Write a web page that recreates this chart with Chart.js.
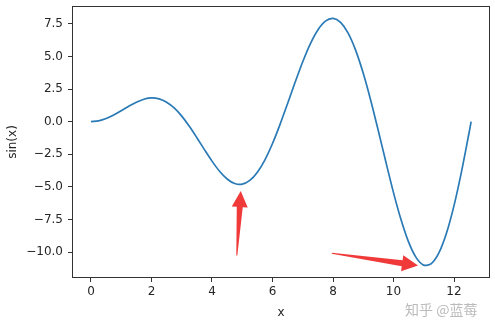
<!DOCTYPE html>
<html><head><meta charset="utf-8">
<script src="https://cdn.jsdelivr.net/npm/chart.js@4"></script>
<style>html,body{margin:0;padding:0;background:#fff}canvas{display:block}</style>
</head><body>
<canvas id="c" width="495" height="330"></canvas>
<script>
// x values and curve values
const xs = [0,0.25,0.5,0.75,1,1.25,1.5,1.75,2,2.25,2.5,2.75,3,3.25,3.5,3.75,4,4.25,4.5,4.75,5,5.25,5.5,5.75,6,6.25,6.5,6.75,7,7.25,7.5,7.75,8,8.25,8.5,8.75,9,9.25,9.5,9.75,10,10.25,10.5,10.75,11,11.25,11.5,11.75,12,12.25,12.5,12.566];
const ys = [0,0.062,0.240,0.511,0.841,1.186,1.496,1.722,1.819,1.751,1.496,1.050,0.423,-0.352,-1.228,-2.144,-3.027,-3.804,-4.399,-4.747,-4.795,-4.509,-3.880,-2.923,-1.676,-0.207,1.398,3.038,4.599,5.971,7.035,7.707,7.915,7.610,6.787,5.468,3.709,1.609,-0.714,-3.118,-5.440,-7.528,-9.237,-10.425,-11.000,-10.887,-10.068,-8.560,-6.439,-3.808,-0.829,0];
const xTicks = [0,2,4,6,8,10,12];
const yTicks = [-10,-7.5,-5,-2.5,0,2.5,5,7.5];
// annotation arrows: [tailX, tailY, tipX, tipY] in data units
const arrow1 = [4.82,-10.26,4.95,-5.32];
const arrow2 = [7.96,-10.10,10.81,-11.03];
const xLabel = 'x';
const yLabel = 'sin(x)';
const watermark = '知乎 @蓝莓';

const FONT = {family:'"DejaVu Sans", sans-serif', size:12};

const deco = {
  id:'deco',
  afterDatasetsDraw(chart){
    const ctx = chart.ctx, a = chart.chartArea;
    const sx = chart.scales.x, sy = chart.scales.y;
    ctx.save();
    // frame
    ctx.strokeStyle = '#333'; ctx.lineWidth = 1;
    ctx.strokeRect(Math.round(a.left)+0.5, Math.round(a.top)+0.5, Math.round(a.right-a.left)-1, Math.round(a.bottom-a.top)-1);
    // arrows
    function arrow(arr){
      const x0 = sx.getPixelForValue(arr[0]), y0 = sy.getPixelForValue(arr[1]);
      const x1 = sx.getPixelForValue(arr[2]), y1 = sy.getPixelForValue(arr[3]);
      const dx = x1-x0, dy = y1-y0, L = Math.hypot(dx,dy);
      const ux = dx/L, uy = dy/L, nx = -uy, ny = ux;
      const headLen = 16, headW = 8, shaftW = 3;
      const bx = x1 - ux*headLen, by = y1 - uy*headLen;
      ctx.beginPath();
      ctx.moveTo(x0 + nx*0.5, y0 + ny*0.5);
      ctx.lineTo(bx + nx*shaftW, by + ny*shaftW);
      ctx.lineTo(bx + nx*headW, by + ny*headW);
      ctx.lineTo(x1, y1);
      ctx.lineTo(bx - nx*headW, by - ny*headW);
      ctx.lineTo(bx - nx*shaftW, by - ny*shaftW);
      ctx.lineTo(x0 - nx*0.5, y0 - ny*0.5);
      ctx.closePath();
      ctx.fillStyle = '#f03a3a';
      ctx.fill();
    }
    arrow(arrow1); arrow(arrow2);
    // watermark
    ctx.font = '14px "Noto Sans CJK SC", sans-serif';
    ctx.textBaseline = 'middle';
    ctx.fillStyle = 'rgba(175,175,175,0.85)';
    ctx.fillText(watermark, 405, 310);
    ctx.restore();
  }
};

new Chart(document.getElementById('c'), {
  type:'scatter',
  data:{datasets:[{
    data: xs.map((x,i)=>({x:x, y:ys[i]})),
    showLine:true, borderColor:'#2a7ab6', borderWidth:1.7, pointRadius:0, tension:0.3, fill:false
  }]},
  options:{
    responsive:false, animation:false, devicePixelRatio:1,
    layout:{padding:{left:2, top:6, right:5, bottom:0}},
    plugins:{legend:{display:false}, tooltip:{enabled:false}},
    scales:{
      x:{type:'linear', min:-0.628, max:13.19,
        afterBuildTicks(ax){ ax.ticks = xTicks.map(v=>({value:v})); },
        afterFit(ax){ ax.height = 52; ax.paddingLeft = 0; ax.paddingRight = 0; },
        grid:{drawOnChartArea:false, drawTicks:true, tickLength:4, color:'#333'},
        border:{display:false},
        ticks:{font:FONT, color:'#262626', padding:3, maxRotation:0, callback:v=>String(v)},
        title:{display:true, text:xLabel, font:FONT, color:'#262626', padding:{top:0,bottom:10}}
      },
      y:{type:'linear', min:-11.99, max:8.87,
        afterBuildTicks(ax){ ax.ticks = yTicks.map(v=>({value:v})); },
        afterFit(ax){ ax.width = 70; ax.paddingTop = 0; ax.paddingBottom = 0; },
        grid:{drawOnChartArea:false, drawTicks:true, tickLength:4, color:'#333'},
        border:{display:false},
        ticks:{font:FONT, color:'#262626', padding:5, callback:v=>v.toFixed(1).replace('-','\u2212')},
        title:{display:true, text:yLabel, font:FONT, color:'#262626', padding:{top:4,bottom:0}}
      }
    }
  },
  plugins:[deco]
});
</script>
</body></html>
